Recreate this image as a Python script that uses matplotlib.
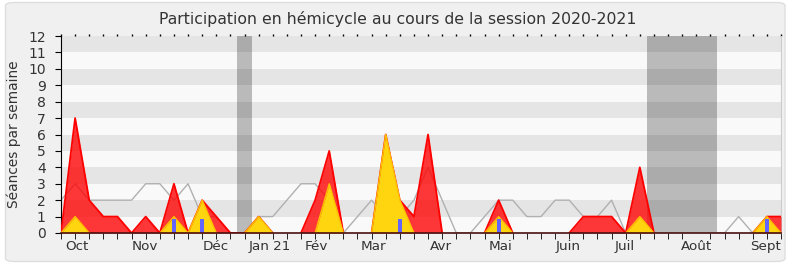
import matplotlib
matplotlib.use("Agg")
import matplotlib.pyplot as plt
from matplotlib.patches import FancyBboxPatch
import numpy as np

# weekly values, session 2020-2021 (52 weeks)
total = [0, 7, 2, 1, 1, 0, 1, 0, 3, 0, 2, 1, 0, 0, 1, 0, 0, 0, 2, 5,
         0, 0, 0, 6, 2, 1, 6, 0, 0, 0, 0, 2, 0, 0, 0, 0, 0, 1, 1, 1,
         0, 4, 0, 0, 0, 0, 0, 0, 0, 0, 1, 1]
hemicycle = [0, 1, 0, 0, 0, 0, 0, 0, 1, 0, 2, 0, 0, 0, 1, 0, 0, 0, 0, 3,
             0, 0, 0, 6, 2, 0, 0, 0, 0, 0, 0, 1, 0, 0, 0, 0, 0, 0, 0, 0,
             0, 1, 0, 0, 0, 0, 0, 0, 0, 0, 1, 0]
median = [2, 3, 2, 2, 2, 2, 3, 3, 2, 3, 1, 1, 0, 0, 1, 1, 2, 3, 3, 2,
          0, 1, 2, 1, 1, 2, 4, 2, 0, 0, 1, 2, 2, 1, 1, 2, 2, 1, 1, 2,
          0, 0, 0, 0, 0, 0, 0, 0, 1, 0, 0, 0]
question_weeks = [8, 10, 24, 31, 50]
question_vals = [0.85, 0.85, 0.85, 0.85, 0.85]
vacances = [(12.5, 13.5), (41.5, 46.5)]
mois = ["Oct", "Nov", "Déc", "Jan 21", "Fév", "Mar", "Avr", "Mai",
        "Juin", "Juil", "Août", "Sept"]
mois_pos = [1.1, 5.96, 10.94, 14.8, 18.1, 22.1, 26.9, 31.1, 35.9, 39.9, 45.0, 49.9]

plt.rcParams['font.family'] = ['DejaVu Sans']
txt = '#333333'


def hide_flat_zero(vals):
    # hide the outline where it only runs along the baseline
    v = np.array(vals, dtype=float)
    keep = np.zeros(len(v), bool)
    for i in range(len(v)):
        left = v[i - 1] if i > 0 else 0
        right = v[i + 1] if i < len(v) - 1 else 0
        keep[i] = v[i] > 0 or left > 0 or right > 0
    return np.ma.masked_where(~keep, v)


fig = plt.figure(figsize=(7.9, 2.67), dpi=100, facecolor='white')
fig.patches.append(FancyBboxPatch((5.5 / 790, 5.5 / 267), 779.5 / 790, 259 / 267,
                                  boxstyle="round,pad=0,rounding_size=0.012",
                                  transform=fig.transFigure, fc='#f0f0f0',
                                  ec='#dedede', lw=1, zorder=-10))
ax = fig.add_axes([61 / 790, 34 / 267, 720 / 790, 197 / 267])
ax.set_facecolor('#f9f9f9')

weeks = np.arange(len(total))

# stripes
for k in range(1, 12, 2):
    ax.axhspan(k, k + 1, color='#e5e5e5', lw=0, zorder=0)
for a, b in vacances:
    ax.axvspan(a, b, color='black', alpha=0.25, lw=0, zorder=1)

ax.plot(weeks, median, color='#b0b0b0', lw=1, zorder=2)
ax.fill_between(weeks, total, color='red', alpha=0.78, lw=0, zorder=3)
ax.plot(weeks, hide_flat_zero(total), color='red', lw=1.3, zorder=3)
ax.fill_between(weeks, hemicycle, color='#ffd510', lw=0, zorder=4)
ax.plot(weeks, hide_flat_zero(hemicycle), color='#ffc000', lw=1, zorder=4)
ax.bar(question_weeks, question_vals, width=0.28, color='#6464ff', zorder=5)

ax.set_xlim(0, 51)
ax.set_ylim(0, 12)

ax.spines['top'].set_visible(False)
ax.spines['right'].set_color('#cccccc')
ax.spines['left'].set_color('black')
ax.spines['bottom'].set_color('#4a1010')
ax.spines['bottom'].set_linewidth(1.2)
ax.spines['bottom'].set_zorder(6)

ax.set_yticks(range(0, 13))
ax.tick_params(axis='y', length=4, pad=7, labelsize=10, labelcolor=txt, color='black')
ax.set_xticks(mois_pos)
ax.set_xticklabels(mois)
ax.set_xticks(weeks, minor=True)
ax.tick_params(axis='x', which='major', length=0, pad=5, labelsize=9.7, labelcolor=txt)
ax.tick_params(axis='x', which='minor', length=4, color='black')

top = ax.secondary_xaxis('top')
top.set_xticks(weeks)
top.tick_params(length=1.5, width=1, labeltop=False, color='black')
top.spines['top'].set_visible(False)

ax.set_ylabel("Séances par semaine", fontsize=9.9, color=txt, labelpad=5)
fig.text(0.504, 0.928, "Participation en hémicycle au cours de la session 2020-2021",
         ha='center', va='center', fontsize=11.3, color=txt)

fig.savefig("out.png", dpi=100, facecolor=fig.get_facecolor())
